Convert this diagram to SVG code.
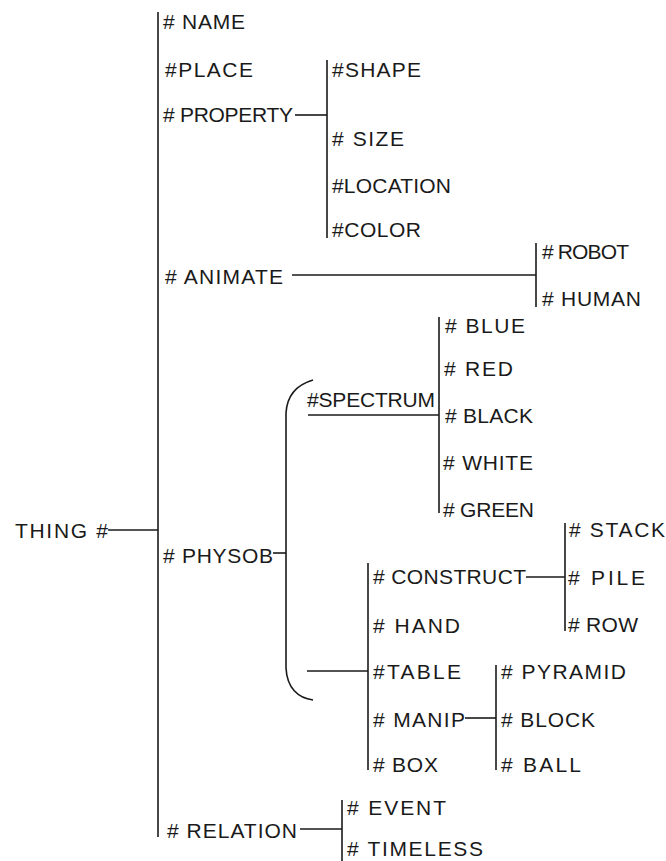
<svg xmlns="http://www.w3.org/2000/svg" width="666" height="861" viewBox="0 0 666 861">
<style>
text{font-family:"Liberation Sans",Arial,sans-serif;font-size:21px;fill:#1a1a1a}
.c line,.c path{stroke:#1a1a1a;stroke-width:1.6;fill:none}
</style>
<rect width="666" height="861" fill="#fff"/>
<g id="connectors" class="c">
<line x1="158" y1="12" x2="158" y2="837"/>
<line x1="108" y1="530" x2="158" y2="530"/>
<line x1="295" y1="115" x2="327" y2="115"/>
<line x1="327" y1="60" x2="327" y2="238"/>
<line x1="292" y1="275" x2="536" y2="275"/>
<line x1="536" y1="243" x2="536" y2="307"/>
<line x1="273" y1="553" x2="286" y2="553"/>
<path d="M313,380 C296,385 287,396 286,413 L286,668 C287,688 298,698 313,700"/>
<line x1="308" y1="415" x2="439" y2="415"/>
<line x1="439" y1="317" x2="439" y2="513"/>
<line x1="307" y1="671" x2="368" y2="671"/>
<line x1="368" y1="563" x2="368" y2="770"/>
<line x1="526" y1="577" x2="565" y2="577"/>
<line x1="565" y1="523" x2="565" y2="631"/>
<line x1="465" y1="718" x2="496" y2="718"/>
<line x1="496" y1="665" x2="496" y2="770"/>
<line x1="300" y1="829" x2="342" y2="829"/>
<line x1="342" y1="800" x2="342" y2="861"/>
</g>
<g id="thing"><text x="15" y="538" textLength="93" lengthAdjust="spacing">THING #</text></g>
<g id="name"><text x="163" y="29" textLength="82" lengthAdjust="spacing"># NAME</text></g>
<g id="place"><text x="165" y="77" textLength="88" lengthAdjust="spacing">#PLACE</text></g>
<g id="property"><text x="163" y="122" textLength="130" lengthAdjust="spacing"># PROPERTY</text></g>
<g id="shape"><text x="332" y="77" textLength="89" lengthAdjust="spacing">#SHAPE</text></g>
<g id="size"><text x="332" y="146" textLength="72" lengthAdjust="spacing"># SIZE</text></g>
<g id="location"><text x="332" y="193" textLength="119" lengthAdjust="spacing">#LOCATION</text></g>
<g id="color"><text x="332" y="237" textLength="89" lengthAdjust="spacing">#COLOR</text></g>
<g id="animate"><text x="165" y="284" textLength="118" lengthAdjust="spacing"># ANIMATE</text></g>
<g id="robot"><text x="542" y="259" textLength="87" lengthAdjust="spacing"># ROBOT</text></g>
<g id="human"><text x="542" y="306" textLength="99" lengthAdjust="spacing"># HUMAN</text></g>
<g id="physob"><text x="163" y="563" textLength="110" lengthAdjust="spacing"># PHYSOB</text></g>
<g id="spectrum"><text x="307" y="407" textLength="128" lengthAdjust="spacing">#SPECTRUM</text></g>
<g id="blue"><text x="445" y="333" textLength="80" lengthAdjust="spacing"># BLUE</text></g>
<g id="red"><text x="444" y="376" textLength="69" lengthAdjust="spacing"># RED</text></g>
<g id="black"><text x="445" y="423" textLength="88" lengthAdjust="spacing"># BLACK</text></g>
<g id="white"><text x="443" y="470" textLength="90" lengthAdjust="spacing"># WHITE</text></g>
<g id="green"><text x="443" y="517" textLength="91" lengthAdjust="spacing"># GREEN</text></g>
<g id="construct"><text x="373" y="584" textLength="153" lengthAdjust="spacing"># CONSTRUCT</text></g>
<g id="stack"><text x="569" y="537" textLength="96" lengthAdjust="spacing"># STACK</text></g>
<g id="pile"><text x="568" y="585" textLength="77" lengthAdjust="spacing"># PILE</text></g>
<g id="row"><text x="568" y="632" textLength="70" lengthAdjust="spacing"># ROW</text></g>
<g id="hand"><text x="373" y="633" textLength="87" lengthAdjust="spacing"># HAND</text></g>
<g id="table"><text x="373" y="679" textLength="88" lengthAdjust="spacing">#TABLE</text></g>
<g id="manip"><text x="373" y="727" textLength="92" lengthAdjust="spacing"># MANIP</text></g>
<g id="box"><text x="373" y="772" textLength="65" lengthAdjust="spacing"># BOX</text></g>
<g id="pyramid"><text x="501" y="679" textLength="125" lengthAdjust="spacing"># PYRAMID</text></g>
<g id="block"><text x="501" y="727" textLength="94" lengthAdjust="spacing"># BLOCK</text></g>
<g id="ball"><text x="501" y="772" textLength="80" lengthAdjust="spacing"># BALL</text></g>
<g id="relation"><text x="167" y="838" textLength="130" lengthAdjust="spacing"># RELATION</text></g>
<g id="event"><text x="347" y="815" textLength="99" lengthAdjust="spacing"># EVENT</text></g>
<g id="timeless"><text x="347" y="856" textLength="136" lengthAdjust="spacing"># TIMELESS</text></g>
</svg>
